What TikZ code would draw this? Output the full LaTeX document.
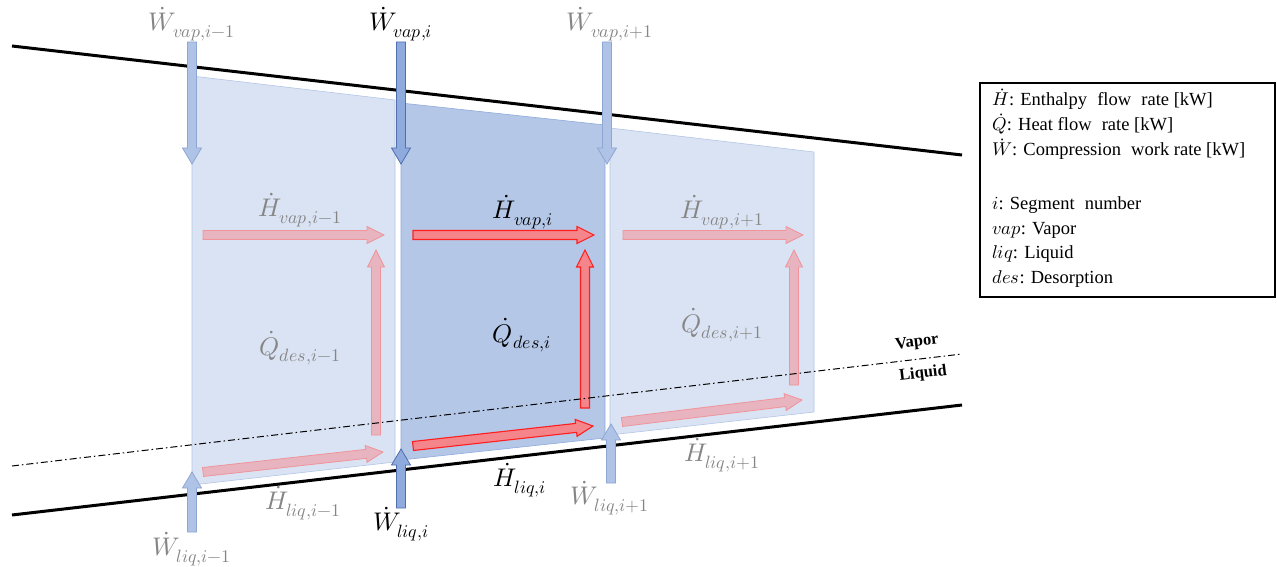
\documentclass[tikz,border=0pt]{standalone}
\usepackage{fontspec}
\usepackage{unicode-math}
\setmainfont{Liberation Serif}
\setmathfont{Latin Modern Math}
\usetikzlibrary{calc}
\definecolor{boxlight}{HTML}{DAE3F3}
\definecolor{boxdark}{HTML}{B4C7E7}
\definecolor{boxedgel}{HTML}{B3C5E6}
\definecolor{boxedged}{HTML}{8FAADC}
\definecolor{wlightfill}{HTML}{AFC3E6}
\definecolor{wlightdraw}{HTML}{8EA6D2}
\definecolor{wdarkfill}{HTML}{8FAADC}
\definecolor{wdarkdraw}{HTML}{4F6FAF}
\definecolor{rbrightfill}{HTML}{F4868B}
\definecolor{rbrightdraw}{HTML}{FF1F1F}
\definecolor{rlightfill}{HTML}{E8B4BF}
\definecolor{rlightdraw}{HTML}{F0939A}
\definecolor{lblgray}{HTML}{858585}
\newcommand\blockarr[8]{%
  \pgfmathsetmacro\arrL{veclen(#4-#2,#5-#3)}%
  \pgfmathsetmacro\arrA{atan2(#3-#5,#4-#2)}%
  \pgfmathsetmacro\arrB{\arrL-#8}%
  \begin{scope}[shift={(#2,#3)},rotate=\arrA]
    \draw[#1] (0,-#6) -- (\arrB,-#6) -- (\arrB,-#7) -- (\arrL,0) -- (\arrB,#7) -- (\arrB,#6) -- (0,#6) -- cycle;
  \end{scope}}
\tikzset{
  lightbox/.style={fill=boxlight,draw=boxedgel,line width=0.6pt},
  darkbox/.style={fill=boxdark,draw=boxedged,line width=0.6pt},
  wlight/.style={fill=wlightfill,draw=wlightdraw,line width=0.8pt},
  wdark/.style={fill=wdarkfill,draw=wdarkdraw,line width=0.8pt},
  rlight/.style={fill=rlightfill,draw=rlightdraw,line width=0.8pt},
  rbright/.style={fill=rbrightfill,draw=rbrightdraw,line width=1.1pt},
  wall/.style={line width=3pt,black},
  phase/.style={line width=1pt,black,dash pattern=on 7pt off 3pt on 1.5pt off 3pt},
  lbl/.style={inner sep=0pt,font=\fontsize{25.5}{29}\selectfont},
  grey/.style={lbl,text=lblgray},
  act/.style={lbl,text=black},
  phaselbl/.style={inner sep=0pt,font=\bfseries\fontsize{16.5}{19}\selectfont,rotate=6.7},
  legtxt/.style={inner sep=0pt,anchor=base west,font=\fontsize{18.5}{21}\selectfont}
}
\begin{document}
\begin{tikzpicture}[x=1pt,y=-1pt]
\useasboundingbox (0,0) rectangle (1277,567);
% segments
\draw[lightbox] (192,76) -- (395,100) -- (395,462) -- (192,485) -- cycle;
\draw[darkbox] (401,103) -- (605,125) -- (605,438) -- (401,460) -- cycle;
\draw[lightbox] (610,128) -- (814,152) -- (814,412) -- (610,435) -- cycle;
% walls
\coordinate (tl) at (12,46);
\coordinate (tr) at (962,155);
\coordinate (bl) at (12,515);
\coordinate (br) at (962,405);
\coordinate (pl) at (12,466);
\coordinate (pr) at (962,354);
\draw[wall] (tl) -- (tr);
\draw[wall] (bl) -- (br);
% compression work arrows
\blockarr{wlight}{192}{42}{192}{164}{4.5}{9.5}{16}
\blockarr{wdark}{401}{42}{401}{164}{4.5}{9.5}{16}
\blockarr{wlight}{607}{42}{607}{164}{4.5}{9.5}{16}
\blockarr{wlight}{192}{532}{192}{472}{4.5}{9.5}{16}
\blockarr{wdark}{401}{508}{401}{449}{4.5}{9.5}{16}
\blockarr{wlight}{611}{483}{611}{424}{4.5}{9.5}{16}
% enthalpy vapor arrows
\blockarr{rlight}{203}{235}{384}{235}{4.5}{8.5}{17}
\blockarr{rbright}{413}{235}{594}{235}{4.5}{8.5}{17}
\blockarr{rlight}{623}{235}{803}{235}{4.5}{8.5}{17}
% heat arrows
\blockarr{rlight}{376}{435}{376}{250}{4.5}{8.5}{17}
\blockarr{rbright}{585}{408}{585}{250}{4.5}{8.5}{17}
\blockarr{rlight}{794}{385}{794}{250}{4.5}{8.5}{17}
% enthalpy liquid arrows
\blockarr{rlight}{203}{472}{383}{452}{4.5}{8.5}{17}
\blockarr{rbright}{413}{446}{593}{426}{4.5}{8.5}{17}
\blockarr{rlight}{622}{422}{802}{400}{4.5}{8.5}{17}
% phase boundary
\draw[phase] (pl) -- (pr);
\node[phaselbl] (vapor) at (917,343) {Vapor};
\node[phaselbl] (liquid) at (923,374) {Liquid};
% labels
\node[grey] (wv1) at (192,24) {$\dot{W}_{vap,i-1}$};
\node[act]  (wv2) at (401,24) {$\dot{W}_{vap,i}$};
\node[grey] (wv3) at (610,24) {$\dot{W}_{vap,i+1}$};
\node[grey] (hv1) at (300,210) {$\dot{H}_{vap,i-1}$};
\node[act]  (hv2) at (523,212) {$\dot{H}_{vap,i}$};
\node[grey] (hv3) at (722,212) {$\dot{H}_{vap,i+1}$};
\node[grey] (q1) at (300,348) {$\dot{Q}_{des,i-1}$};
\node[act]  (q2) at (522,335) {$\dot{Q}_{des,i}$};
\node[grey] (q3) at (722,325) {$\dot{Q}_{des,i+1}$};
\node[grey] (hl1) at (303,503) {$\dot{H}_{liq,i-1}$};
\node[act]  (hl2) at (520,480) {$\dot{H}_{liq,i}$};
\node[grey] (hl3) at (722,455) {$\dot{H}_{liq,i+1}$};
\node[grey] (wl1) at (192,549) {$\dot{W}_{liq,i-1}$};
\node[act]  (wl2) at (401,524) {$\dot{W}_{liq,i}$};
\node[grey] (wl3) at (610,498) {$\dot{W}_{liq,i+1}$};
% legend
\draw[line width=1.8pt] (980,83) rectangle (1275,297);
\node[legtxt] (lg1) at (992,106) {$\dot{H}$: Enthalpy\hspace{0.3em} flow\hspace{0.3em} rate [kW]};
\node[legtxt] (lg2) at (992,131) {$\dot{Q}$: Heat flow\hspace{0.3em} rate [kW]};
\node[legtxt] (lg3) at (992,156) {$\dot{W}$: Compression\hspace{0.3em} work rate [kW]};
\node[legtxt] (lg4) at (992,209) {$i$: Segment\hspace{0.3em} number};
\node[legtxt] (lg5) at (992,234) {$vap$: Vapor};
\node[legtxt] (lg6) at (992,258) {$liq$: Liquid};
\node[legtxt] (lg7) at (992,283) {$des$: Desorption};
\end{tikzpicture}
\end{document}
